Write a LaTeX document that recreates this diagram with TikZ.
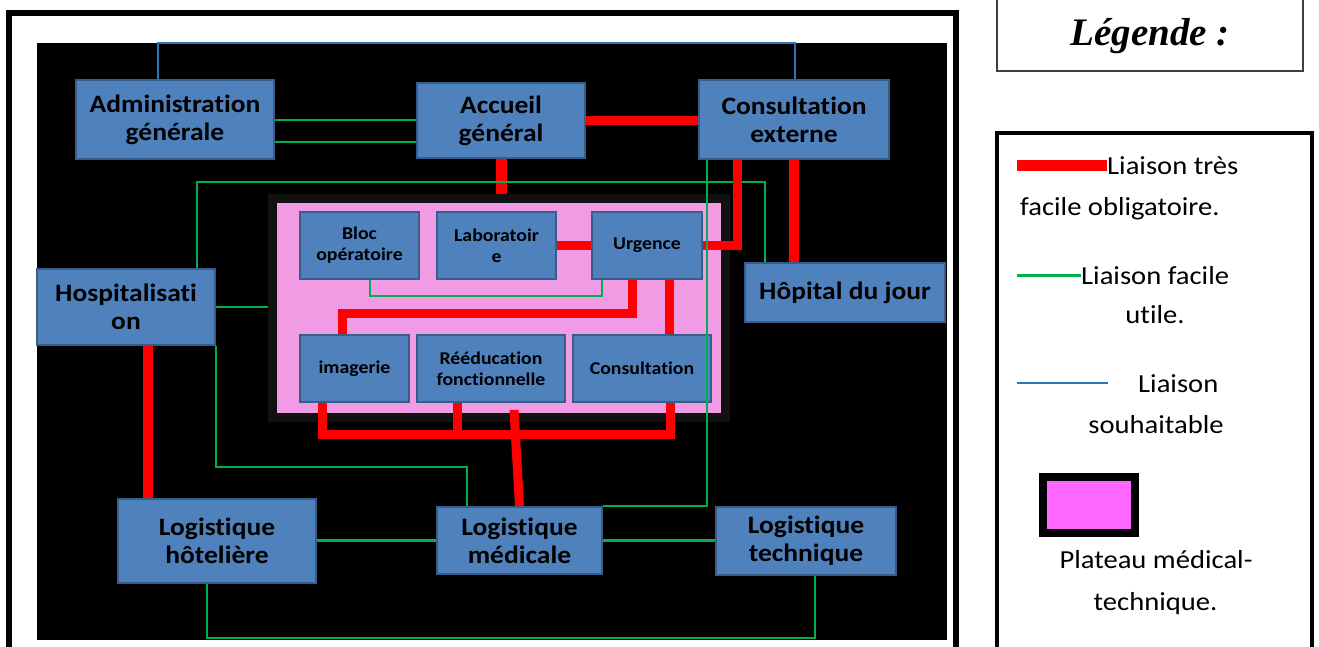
\documentclass[tikz,border=0pt]{standalone}
\usepackage{fontspec}
\setmainfont{Carlito}[FakeStretch=1.1, Ligatures={NoCommon}]
\newfontfamily\legfont{Liberation Serif}
\definecolor{boxblue}{RGB}{79,129,189}
\definecolor{boxedge}{RGB}{56,93,138}
\definecolor{liaisonred}{RGB}{255,0,0}
\definecolor{liaisongreen}{RGB}{0,176,80}
\definecolor{liaisonblue}{RGB}{46,117,182}
\definecolor{plateaupink}{RGB}{240,155,228}
\definecolor{plateauedge}{RGB}{17,17,17}
\definecolor{legendpink}{RGB}{255,102,255}
\tikzset{
  svcbox/.style  = {draw=boxedge, line width=2, fill=boxblue, align=center, inner sep=0pt,
                    font=\bfseries\fontsize{25}{28}\selectfont},
  subbox/.style  = {svcbox, font=\bfseries\fontsize{18}{21}\selectfont},
  oblig/.style   = {draw=liaisonred, line width=9},
  utile/.style   = {draw=liaisongreen, line width=2.8},
  souhait/.style = {draw=liaisonblue, line width=1.3},
  legtxt/.style  = {font=\fontsize{26}{30}\selectfont, inner sep=0pt}
}

\begin{document}
\begin{tikzpicture}[x=1pt, y=-1pt]
  \useasboundingbox (0,0) rectangle (1319,646);
  % fond et cadre
  \fill[black] (37,43) rectangle (947,640);
  \draw[line width=6] (9,660) -- (9,13) -- (956,13) -- (956,660);
  % plateau medico-technique
  \node[draw=plateauedge, line width=9, fill=plateaupink, minimum width=453, minimum height=219] (plateau) at (499,307.5) {};
  % services
  \node[svcbox, minimum width=198, minimum height=79] (admin) at (175,119.5) {Administration\\générale};
  \node[svcbox, minimum width=168, minimum height=75] (accueil) at (501,120.5) {Accueil\\général};
  \node[svcbox, minimum width=190, minimum height=79] (consext) at (794,119.5) {Consultation\\externe};
  \node[svcbox, minimum width=178, minimum height=76] (hosp) at (126,307) {Hospitalisati\\on};
  \node[svcbox, minimum width=200, minimum height=59] (hopjour) at (845,292.5) {Hôpital du jour};
  \node[subbox, minimum width=119, minimum height=67] (bloc) at (359.5,245.5) {Bloc\\opératoire};
  \node[subbox, minimum width=119, minimum height=67] (labo) at (496.5,245.5) {Laboratoir\\e};
  \node[subbox, minimum width=110, minimum height=67] (urgence) at (647,245.5) {Urgence};
  \node[subbox, minimum width=109, minimum height=67] (imagerie) at (354.5,368.5) {imagerie};
  \node[subbox, minimum width=148, minimum height=67] (reeduc) at (491,368.5) {Rééducation\\fonctionnelle};
  \node[subbox, minimum width=138, minimum height=67] (consult) at (642,368.5) {Consultation};
  \node[svcbox, minimum width=198, minimum height=84] (logh) at (217,541) {Logistique\\hôtelière};
  \node[svcbox, minimum width=165, minimum height=67] (logm) at (519.5,540.5) {Logistique\\médicale};
  \node[svcbox, minimum width=180, minimum height=68] (logt) at (806,541) {Logistique\\technique};

  % liaison souhaitable
  \coordinate (souhL) at (158,43);
  \coordinate (souhR) at (795,43);
  \draw[souhait] (admin.north -| souhL) -- (souhL) -- (souhR) -- (consext.north -| souhR);

  % liaisons du haut
  \coordinate (adA) at (0,120);
  \coordinate (adB) at (0,142);
  \draw[utile] (admin.east |- adA) -- (accueil.west |- adA);
  \draw[utile] (admin.east |- adB) -- (accueil.west |- adB);
  \draw[oblig] (accueil.east |- adA) -- (consext.west |- adA);
  \draw[oblig, line width=11] (accueil.south) -- (plateau.north -| accueil.south);
  \coordinate (gTL) at (197,182);
  \coordinate (gTR) at (765,182);
  \draw[utile] (hosp.north -| gTL) -- (gTL) -- (gTR) -- (hopjour.north -| gTR);
  \draw[oblig, line width=10] (consext.south) -- (hopjour.north -| consext.south);

  % urgence
  \draw[oblig] (labo.east) -- (urgence.west);
  \coordinate (rUE) at (737,0);
  \draw[oblig] (urgence.east) -| (consext.south -| rUE);
  \coordinate (gBU) at (370,296);
  \coordinate (gBUr) at (602,296);
  \draw[utile] (bloc.south -| gBU) -- (gBU) -- (gBUr) -- (urgence.south -| gBUr);
  \coordinate (rUI) at (632,313);
  \coordinate (rIm) at (342,313);
  \draw[oblig] (urgence.south -| rUI) -- (rUI) -- (rIm) -- (imagerie.north -| rIm);
  \coordinate (rUC) at (669,0);
  \draw[oblig] (urgence.south -| rUC) -- (consult.north -| rUC);
  \coordinate (gCE) at (707,0);
  \draw[utile] (consext.south -| gCE) |- (logm.north east);
  \draw[utile] (hosp.east) -- (plateau.west |- hosp.east);

  % bas du plateau
  \coordinate (busL) at (322,434);
  \coordinate (busR) at (670,434);
  \draw[oblig] (imagerie.south -| busL) -- (busL) -- (busR) -- (consult.south -| busR);
  \coordinate (rRe) at (457,434);
  \draw[oblig] (reeduc.south -| rRe) -- (rRe);
  \coordinate (rPl) at (514,410);
  \draw[oblig] (rPl) -- (logm.north);

  % logistique
  \coordinate (rHo) at (148,0);
  \draw[oblig, line width=10] (hosp.south -| rHo) -- (logh.north -| rHo);
  \coordinate (gHM) at (467,467);
  \draw[utile] (hosp.south east) |- (gHM) -- (logm.north -| gHM);
  \draw[utile] (logh.east |- logm.west) -- (logm.west);
  \draw[utile] (logm.east) -- (logt.west |- logm.east);
  \coordinate (gBL) at (207,638);
  \coordinate (gBR) at (815,638);
  \draw[utile] (logh.south -| gBL) -- (gBL) -- (gBR) -- (logt.south -| gBR);

  % legende
  \draw[draw=black!75, line width=1.5] (997,-9) rectangle (1303,71);
  \node[font=\legfont\bfseries\itshape\fontsize{39}{42}\selectfont, anchor=base, inner sep=0pt] (legende) at (1150,45) {Légende :};
  \draw[line width=4] (997,133) rectangle (1312,700);
  \node[legtxt, anchor=base west] (lgOblA) at (1107,174) {Liaison très};
  \node[legtxt, anchor=base west] (lgOblB) at (1020,215) {facile obligatoire.};
  \draw[oblig, line width=11] (lgOblA.west) -- ++(-90,0);
  \node[legtxt, anchor=base west] (lgUtiA) at (1081,284) {Liaison facile};
  \node[legtxt, anchor=base] (lgUtiB) at (1155,323) {utile.};
  \draw[utile, line width=3] (lgUtiA.west) -- ++(-64,0);
  \node[legtxt, anchor=base west] (lgSouA) at (1138,392) {Liaison};
  \node[legtxt, anchor=base] (lgSouB) at (1156,433) {souhaitable};
  \draw[souhait, line width=2] ([xshift=-30pt]lgSouA.west) -- ++(-91,0);
  \node[draw, line width=8, fill=legendpink, minimum width=92, minimum height=56] (lgPlat) at (1089,505) {};
  \node[legtxt, anchor=base] (lgPlatA) at (1156,568) {Plateau médical-};
  \node[legtxt, anchor=base] (lgPlatB) at (1155.5,610) {technique.};
\end{tikzpicture}
\end{document}
